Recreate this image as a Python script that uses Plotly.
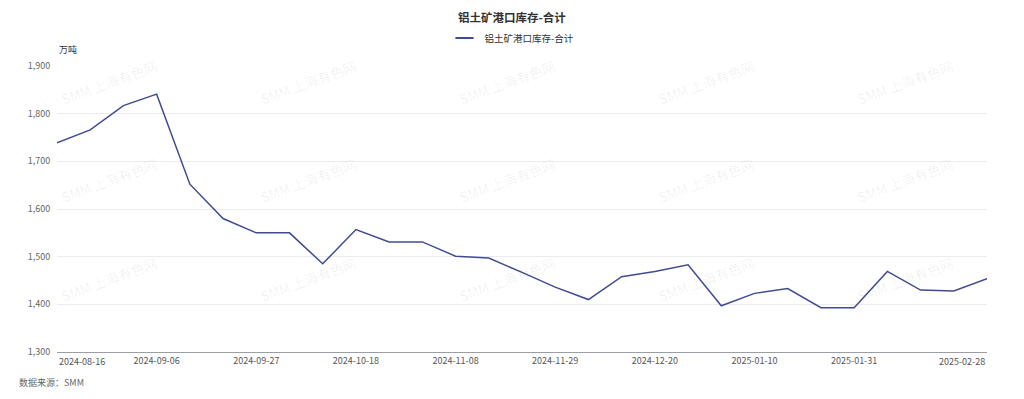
import plotly.graph_objects as go

dates = ["2024-08-16", "2024-08-23", "2024-08-30", "2024-09-06", "2024-09-13", "2024-09-20",
         "2024-09-27", "2024-10-04", "2024-10-11", "2024-10-18", "2024-10-25", "2024-11-01",
         "2024-11-08", "2024-11-15", "2024-11-22", "2024-11-29", "2024-12-06", "2024-12-13",
         "2024-12-20", "2024-12-27", "2025-01-03", "2025-01-10", "2025-01-17", "2025-01-24",
         "2025-01-31", "2025-02-07", "2025-02-14", "2025-02-21", "2025-02-28"]
inventory = [1739, 1766, 1817, 1841, 1652, 1580, 1550, 1550, 1485, 1557, 1531, 1531,
             1501, 1497, 1467, 1436, 1410, 1458, 1469, 1483, 1397, 1423, 1433, 1393,
             1393, 1469, 1430, 1428, 1454]
series_name = "铝土矿港口库存-合计"
title_text = "铝土矿港口库存-合计"
unit_text = "万吨"
source_text = "数据来源：SMM"
watermark = "SMM 上海有色网"
mid_ticks = ["2024-09-06", "2024-09-27", "2024-10-18", "2024-11-08", "2024-11-29",
             "2024-12-20", "2025-01-10", "2025-01-31"]
y_ticks = [1300, 1400, 1500, 1600, 1700, 1800, 1900]

FONT = "Noto Sans CJK SC, Microsoft YaHei, sans-serif"
LINE_COLOR = "#404b91"

fig = go.Figure()
fig.add_trace(go.Scatter(
    x=dates, y=inventory, mode="lines", name=series_name, showlegend=False,
    line=dict(color=LINE_COLOR, width=1.5),
))
# legend entry with a short line sample
fig.add_trace(go.Scatter(
    x=[None], y=[None], mode="markers", name=series_name, showlegend=True,
    marker=dict(symbol="line-ew", size=13, color=LINE_COLOR,
                line=dict(color=LINE_COLOR, width=2)),
))

annotations = []
# watermarks (pixel grid of the page, converted to paper coords)
for wy in [82, 180, 279]:
    for wx in [109, 308, 507, 706, 905]:
        annotations.append(dict(
            text=watermark, xref="paper", yref="paper",
            x=(wx - 57) / 930, y=(352 - wy) / 286,
            xanchor="center", yanchor="middle", showarrow=False, textangle=-20,
            font=dict(family=FONT, size=13.5, color="rgba(0,0,0,0.065)"),
        ))
# first / last x labels, aligned to edge as in reference
annotations.append(dict(text=dates[0], x=dates[0], xref="x", yref="paper", y=0,
                        yshift=-1, xanchor="left", yanchor="top", showarrow=False,
                        font=dict(family=FONT, size=9, color="#555")))
annotations.append(dict(text=dates[-1], x=dates[-1], xref="x", yref="paper", y=0,
                        yshift=-1, xanchor="right", yanchor="top", showarrow=False,
                        font=dict(family=FONT, size=9, color="#555")))
annotations.append(dict(text=unit_text, xref="paper", yref="paper", x=0, y=1,
                        xanchor="left", yanchor="bottom", yshift=8, showarrow=False,
                        font=dict(family=FONT, size=9, color="#333")))
annotations.append(dict(text=source_text, xref="paper", yref="paper", x=-40 / 930, y=0,
                        xanchor="left", yanchor="top", yshift=-22, showarrow=False,
                        font=dict(family=FONT, size=9, color="#666")))

fig.update_layout(
    width=1024, height=399,
    margin=dict(l=57, r=37, t=66, b=47, autoexpand=False),
    paper_bgcolor="white", plot_bgcolor="white",
    font=dict(family=FONT, size=9, color="#555"),
    title=dict(text=title_text, x=0.5, xanchor="center", y=0.955, yanchor="middle",
               font=dict(family=FONT, size=11.5, color="#333", weight="bold")),
    showlegend=True,
    legend=dict(orientation="h", x=0.5 - 10 / 930, xanchor="center", yref="container",
                y=0.905, yanchor="middle",
                font=dict(family=FONT, size=9.5, color="#333"),
                bgcolor="rgba(0,0,0,0)"),
    annotations=annotations,
    hovermode="x",
)
fig.update_xaxes(
    type="category", range=[0, len(dates) - 1],
    tickmode="array", tickvals=mid_ticks, ticktext=mid_ticks,
    showgrid=False, showline=True, linecolor="#9a9fa6", linewidth=1,
    ticks="", tickfont=dict(family=FONT, size=9, color="#555"),
    zeroline=False,
)
fig.update_yaxes(
    range=[1300, 1900], tickmode="array", tickvals=y_ticks,
    tickformat=",", showgrid=True, gridcolor="#ececec", gridwidth=1,
    zeroline=False, showline=False, ticks="outside", ticklen=4,
    tickcolor="rgba(0,0,0,0)", tickfont=dict(family=FONT, size=9, color="#666"),
)

fig.write_html("out.html", config={"displayModeBar": False},
               post_script="document.body.style.margin='0';document.body.style.overflow='hidden';")
